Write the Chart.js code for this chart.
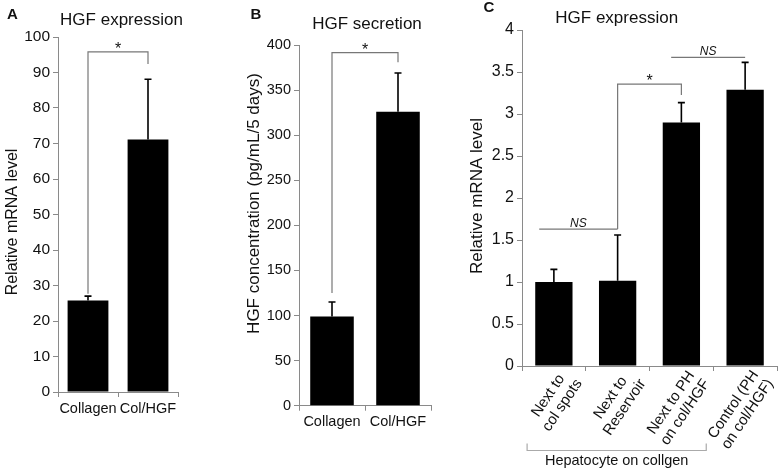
<!DOCTYPE html>
<html>
<head>
<meta charset="utf-8">
<script src="https://cdn.jsdelivr.net/npm/chart.js@4.4.1/dist/chart.umd.min.js"></script>
<style>
    html, body { margin: 0; padding: 0; background: #fff; }
    #wrap { position: relative; width: 779px; height: 469px; }
    canvas { position: absolute; top: 0; }
</style>
</head>
<body>
<div id="wrap">
    <canvas id="chartA" width="240" height="469" style="left:0"></canvas>
    <canvas id="chartB" width="200" height="469" style="left:240px"></canvas>
    <canvas id="chartC" width="339" height="469" style="left:440px"></canvas>
</div>
<script>
// Panel A - HGF expression
const categoriesA = ['Collagen', 'Col/HGF'];
const valuesA = [25.8, 71.1];
const errorsA = [1.2, 17.0];
const ticksA = [0, 10, 20, 30, 40, 50, 60, 70, 80, 90, 100];

// Panel B - HGF secretion
const categoriesB = ['Collagen', 'Col/HGF'];
const valuesB = [99, 326];
const errorsB = [16, 43];
const ticksB = [0, 50, 100, 150, 200, 250, 300, 350, 400];

// Panel C - HGF expression by location
const categoriesC = [['Next to', 'col spots'], ['Next to', 'Reservoir'], ['Next to PH', 'on col/HGF'], ['Control (PH', 'on col/HGF)']];
const valuesC = [1.0, 1.015, 2.9, 3.29];
const errorsC = [0.15, 0.545, 0.235, 0.325];
const ticksC = [0, 0.5, 1, 1.5, 2, 2.5, 3, 3.5, 4];

// significance brackets (category index / data units)
const marksA = [{ from: 0, to: 1, level: 95.8, leftEnd: 27.7, rightEnd: 92.4, text: '*' }];
const marksB = [{ from: 0, to: 1, level: 391.6, leftEnd: 125, rightEnd: 381, text: '*' }];
const marksC = [
    { from: -0.23, to: 1, level: 1.63, text: 'NS' },
    { from: 1, to: 2, level: 3.355, leftEnd: 1.63, rightEnd: 3.225, text: '*' },
    { from: 1.84, to: 3, level: 3.675, text: 'NS' }
];
const groupC = { from: -0.42, to: 2.39, text: 'Hepatocyte on collgen' };

const FONT = "'Liberation Sans', Arial, sans-serif";
const AXIS = '#8a8a8a';
const INK = '#111';

// error bars on top of each bar
const errorBars = {
    id: 'errorBars',
    afterDatasetsDraw(chart)
    {
        const ds = chart.data.datasets[0];
        const meta = chart.getDatasetMeta(0);
        const y = chart.scales.y;
        const ctx = chart.ctx;
        ctx.save();
        ctx.strokeStyle = '#000';
        ctx.lineWidth = 1.6;
        meta.data.forEach((bar,i) =>
        {
            const top = y.getPixelForValue(ds.data[i] + ds.errors[i]);
            ctx.beginPath();
            ctx.moveTo(bar.x,bar.y);
            ctx.lineTo(bar.x,top);
            ctx.moveTo(bar.x - 3.5,top);
            ctx.lineTo(bar.x + 3.5,top);
            ctx.stroke();
        });
        ctx.restore();
    }
};

// significance brackets + group bracket under the axis
const brackets = {
    id: 'brackets',
    afterDraw(chart,args,opts)
    {
        const { x, y } = chart.scales;
        const ctx = chart.ctx;
        ctx.save();
        ctx.strokeStyle = '#777';
        ctx.lineWidth = 1.2;
        ctx.fillStyle = INK;
        ctx.textAlign = 'center';
        (opts.items || []).forEach(m =>
        {
            const x1 = x.getPixelForValue(m.from);
            const x2 = x.getPixelForValue(m.to);
            const yl = y.getPixelForValue(m.level);
            ctx.beginPath();
            if (m.leftEnd != null)
            {
                ctx.moveTo(x1,y.getPixelForValue(m.leftEnd));
                ctx.lineTo(x1,yl);
            }
            else ctx.moveTo(x1,yl);
            ctx.lineTo(x2,yl);
            if (m.rightEnd != null) ctx.lineTo(x2,y.getPixelForValue(m.rightEnd));
            ctx.stroke();
            if (m.text === '*')
            {
                ctx.font = '16px ' + FONT;
                ctx.fillText('*',(x1 + x2) / 2,yl + 2);
            }
            else
            {
                ctx.font = 'italic 12px ' + FONT;
                ctx.fillText(m.text,(x1 + x2) / 2,yl - 2.5);
            }
        });
        const g = opts.group;
        if (g)
        {
            const x1 = x.getPixelForValue(g.from);
            const x2 = x.getPixelForValue(g.to);
            const yb = chart.chartArea.bottom + 84.5;
            ctx.strokeStyle = '#aaa';
            ctx.beginPath();
            ctx.moveTo(x1,yb - 7);
            ctx.lineTo(x1,yb);
            ctx.lineTo(x2,yb);
            ctx.lineTo(x2,yb - 7);
            ctx.stroke();
            ctx.font = '14.5px ' + FONT;
            ctx.textBaseline = 'middle';
            ctx.fillText(g.text,(x1 + x2) / 2,yb + 10.5);
        }
        ctx.restore();
    }
};

// slanted two-line category labels, lines centred on each other
const slantLabels = {
    id: 'slantLabels',
    afterDraw(chart,args,o)
    {
        if (!o.display) return;
        const x = chart.scales.x;
        const ctx = chart.ctx;
        const a = o.angle * Math.PI / 180;
        ctx.save();
        ctx.font = o.size + 'px ' + FONT;
        ctx.fillStyle = INK;
        ctx.textAlign = 'center';
        ctx.textBaseline = 'middle';
        chart.data.labels.forEach((lines,i) =>
        {
            const w = Math.max(...lines.map(t => ctx.measureText(t).width));
            ctx.save();
            ctx.translate(x.getPixelForValue(i) + o.offX,chart.chartArea.bottom + o.offY);
            ctx.rotate(-a);
            lines.forEach((t,k) => ctx.fillText(t,-w / 2,(k - (lines.length - 1) / 2) * o.lineHeight));
            ctx.restore();
        });
        ctx.restore();
    }
};

// panel letter, title and y-axis title
const panelText = {
    id: 'panelText',
    afterDraw(chart,args,o)
    {
        const ctx = chart.ctx;
        ctx.save();
        ctx.fillStyle = INK;
        ctx.font = 'bold 15px ' + FONT;
        ctx.textAlign = 'center';
        ctx.fillText(o.letter,o.letterX,o.letterY);
        ctx.font = '17px ' + FONT;
        ctx.fillText(o.title,o.titleX,o.titleY);
        ctx.translate(o.yTitleX,o.yTitleY);
        ctx.rotate(-Math.PI / 2);
        ctx.textBaseline = 'middle';
        ctx.font = o.yTitleSize + 'px ' + FONT;
        ctx.fillText(o.yTitle,0,0);
        ctx.restore();
    }
};

const makeChart = (id,p) =>
{
    const ctx = document.getElementById(id).getContext('2d');
    return new Chart(ctx,{
        type: 'bar',
        data: {
            labels: p.labels,
            datasets: [{
                data: p.values,
                errors: p.errors,
                backgroundColor: '#000',
                borderWidth: 0,
                barPercentage: p.barPct,
                categoryPercentage: 1
            }]
        },
        options: {
            responsive: false,
            animation: false,
            layout: { padding: { left: 0, right: p.padRight, top: p.padTop, bottom: 0 } },
            scales: {
                x: {
                    afterFit: s => { s.height = p.xHeight; },
                    border: { color: AXIS, width: 1 },
                    grid: { drawOnChartArea: false, tickLength: 5, color: AXIS },
                    ticks: {
                        display: !p.slant,
                        color: INK,
                        font: { family: FONT, size: p.xFont },
                        autoSkip: false,
                        maxRotation: 0,
                        padding: 3
                    }
                },
                y: {
                    min: p.ticks[0],
                    max: p.ticks[p.ticks.length - 1],
                    afterFit: s => { s.width = p.yWidth; },
                    afterBuildTicks: s => { s.ticks = p.ticks.map(v => ({ value: v })); },
                    border: { color: AXIS, width: 1 },
                    grid: { drawOnChartArea: false, tickLength: 5, color: AXIS },
                    ticks: {
                        color: INK,
                        font: { family: FONT, size: p.yFont },
                        padding: 3,
                        callback: v => String(v)
                    }
                }
            },
            plugins: {
                legend: { display: false },
                tooltip: { enabled: false },
                brackets: { items: p.marks, group: p.group },
                slantLabels: p.slant || { display: false },
                panelText: p.text
            }
        },
        plugins: [errorBars,brackets,slantLabels,panelText]
    });
};

document.addEventListener('DOMContentLoaded',() =>
{
    makeChart('chartA',{
        labels: categoriesA, values: valuesA, errors: errorsA, ticks: ticksA, marks: marksA,
        barPct: 0.68, padRight: 62, padTop: 37, xHeight: 77, yWidth: 58,
        xFont: 14.5, yFont: 15.5,
        text: { letter: 'A', letterX: 12.5, letterY: 18.5, title: 'HGF expression', titleX: 121.5, titleY: 25,
                yTitle: 'Relative mRNA level', yTitleX: 12.5, yTitleY: 222, yTitleSize: 16 }
    });
    makeChart('chartB',{
        labels: categoriesB, values: valuesB, errors: errorsB, ticks: ticksB, marks: marksB,
        barPct: 0.66, padRight: 9, padTop: 45, xHeight: 63.3, yWidth: 59,
        xFont: 14.5, yFont: 14.5,
        text: { letter: 'B', letterX: 16, letterY: 18.5, title: 'HGF secretion', titleX: 127, titleY: 29.3,
                yTitle: 'HGF concentration (pg/mL/5 days)', yTitleX: 14, yTitleY: 203.5, yTitleSize: 17 }
    });
    makeChart('chartC',{
        labels: categoriesC, values: valuesC, errors: errorsC, ticks: ticksC, marks: marksC, group: groupC,
        barPct: 0.585, padRight: 2, padTop: 30, xHeight: 103, yWidth: 82,
        xFont: 15, yFont: 16,
        slant: { display: true, angle: 56, offX: 18, offY: 10, size: 15, lineHeight: 17 },
        text: { letter: 'C', letterX: 49, letterY: 11.7, title: 'HGF expression', titleX: 176.7, titleY: 23.3,
                yTitle: 'Relative mRNA level', yTitleX: 37, yTitleY: 196, yTitleSize: 17 }
    });
});
</script>
</body>
</html>
